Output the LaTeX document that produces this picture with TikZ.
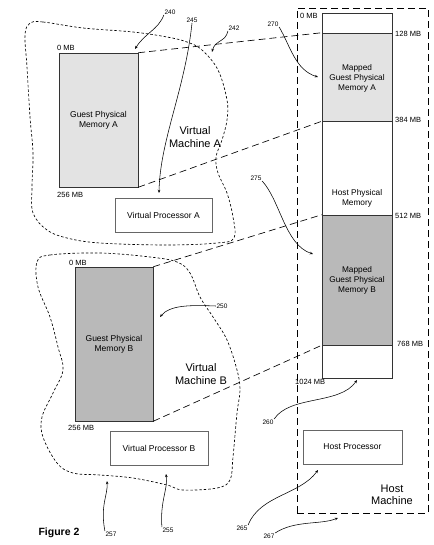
\documentclass[tikz,border=0pt]{standalone}
\usepackage{fontspec}
\setmainfont{Liberation Sans}
\usetikzlibrary{arrows.meta}

\tikzset{
  memcell/.style={draw=black!80, line width=0.5pt, inner sep=0pt, minimum width=70pt},
  guestmem/.style={draw=black!80, line width=0.5pt, inner sep=0pt, align=center,
    font=\fontsize{8.5}{10}\selectfont},
  celltext/.style={align=center, inner sep=0pt, font=\fontsize{8.3}{10}\selectfont},
  procbox/.style={draw=black!60, line width=0.6pt, minimum height=34pt,
    font=\fontsize{8.5}{10}\selectfont},
  mblabel/.style={anchor=west, inner sep=0pt, font=\fontsize{7.5}{8}\selectfont},
  refnum/.style={inner sep=0.5pt, font=\fontsize{6.5}{7}\selectfont},
  machtitle/.style={align=center, inner sep=0pt, font=\fontsize{11}{12.5}\selectfont},
  vmblob/.style={dash pattern=on 2.5pt off 2pt, line width=0.65pt},
  maplink/.style={dash pattern=on 7pt off 4pt, line width=0.65pt},
  callout/.style={-{Stealth[length=3.2pt,width=2.6pt]}, line width=0.55pt}
}

\colorlet{lightmem}{gray!22}
\colorlet{darkmem}{gray!55}

\begin{document}
\begin{tikzpicture}[x=1pt,y=-1pt]
\useasboundingbox (0,0) rectangle (433,545);

% virtual machine outlines
\draw[vmblob] plot[smooth cycle, tension=0.6] coordinates {
  (30,23) (43,22) (83,28) (133,32) (167,37) (187,42) (202,50) (218,70)
  (227,100) (227,120) (222,140) (216,157) (218,173) (227,193) (233,217)
  (234,238) (217,243) (167,245) (100,243) (67,238) (47,230) (33,213)
  (32,187) (33,153) (30,117) (27,67) (25,35)};
\draw[vmblob] plot[smooth cycle, tension=0.6] coordinates {
  (37,262) (50,255) (100,253) (150,257) (177,262) (190,273) (200,297)
  (213,317) (227,340) (237,370) (240,390) (237,413) (233,457) (230,480)
  (217,488) (183,490) (167,485) (133,478) (100,475) (73,473) (57,463)
  (43,437) (42,417) (53,393) (63,370) (58,347) (50,317) (38,287)};

% host machine
\node[draw, maplink, minimum width=131pt, minimum height=505pt, inner sep=0pt]
  (hostMach) at (362.5,260.5) {};
\node[machtitle] (hostTitle) at (392,495) {Host\\Machine};

% guest memories
\node[guestmem, fill=lightmem, minimum width=79pt, minimum height=134pt]
  (gpmA) at (98.5,120) {Guest Physical\\Memory A};
\node[guestmem, fill=darkmem, minimum width=78pt, minimum height=154pt]
  (gpmB) at (114,344) {Guest Physical\\Memory B};
\node[mblabel] (gpmAtop) at (57,48) {0 MB};
\node[mblabel] (gpmAbot) at (57,195) {256 MB};
\node[mblabel] (gpmBtop) at (69,263) {0 MB};
\node[mblabel] (gpmBbot) at (68,428) {256 MB};

\node[machtitle] (vmA) at (195,137) {Virtual\\Machine A};
\node[machtitle] (vmB) at (201,374) {Virtual\\Machine B};

% host physical memory column
\node[memcell, minimum height=20pt] (hostTop) at (357,23) {};
\node[memcell, fill=lightmem, minimum height=88pt] (mapA) at (357,77) {};
\node[memcell, minimum height=94pt] (hostMid) at (357,168) {};
\node[memcell, fill=darkmem, minimum height=130pt] (mapB) at (357,280) {};
\node[memcell, minimum height=33pt] (hostBot) at (357,361.5) {};
\node[celltext] (mapAtext) at (357,78) {Mapped\\Guest Physical\\Memory A};
\node[celltext] (hostText) at (357,198) {Host Physical\\Memory};
\node[celltext] (mapBtext) at (357,280) {Mapped\\Guest Physical\\Memory B};

\node[mblabel] (mb0) at (300,16) {0 MB};
\node[mblabel] (mb128) at (395,34) {128 MB};
\node[mblabel] (mb384) at (395,120) {384 MB};
\node[mblabel] (mb512) at (395,216) {512 MB};
\node[mblabel] (mb768) at (397,344) {768 MB};
\node[mblabel] (mb1024) at (295,382) {1024 MB};

% processors
\node[procbox, minimum width=97pt] (vpA) at (163.5,215) {Virtual Processor A};
\node[procbox, minimum width=98pt] (vpB) at (159,448.5) {Virtual Processor B};
\node[procbox, minimum width=99pt] (hostProc) at (352.5,447) {Host Processor};

% memory mappings
\draw[maplink] (gpmA.north east) -- (mapA.north west);
\draw[maplink] (gpmA.south east) -- (mapA.south west);
\draw[maplink] (gpmB.north east) -- (mapB.north west);
\draw[maplink] (gpmB.south east) -- (mapB.south west);

% reference numerals
\node[refnum] (n240) at (170,12) {240};
\node[refnum] (n245) at (192,20) {245};
\node[refnum] (n242) at (234,28) {242};
\node[refnum] (n270) at (273,24) {270};
\node[refnum] (n275) at (256,178) {275};
\node[refnum] (n250) at (222,306) {250};
\node[refnum] (n260) at (268,422) {260};
\node[refnum] (n257) at (111,534) {257};
\node[refnum] (n255) at (168,530) {255};
\node[refnum] (n265) at (242,528) {265};
\node[refnum] (n267) at (269,536) {267};
\node[font=\bfseries\fontsize{10.5}{12}\selectfont, inner sep=0pt] (figlabel) at (59,533) {Figure 2};

\coordinate (t240) at (135,49);
\coordinate (t245) at (159,193);
\coordinate (t242) at (212,52);
\coordinate (t270) at (318,77);
\coordinate (t275) at (313,254);
\coordinate (t250) at (160,317);
\coordinate (t260) at (357,380);
\coordinate (t257) at (107,481);
\coordinate (t255) at (166,474);
\coordinate (t265) at (318,470);
\coordinate (t267) at (338,518);

\draw[callout] (n240.south west) .. controls (158,30) and (145,33) .. (t240);
\draw[callout] (n245.south) .. controls (185,90) and (160,140) .. (t245);
\draw[callout] (n242.south west) .. controls (226,42) and (215,40) .. (t242);
\draw[callout] (n270.south east) .. controls (290,45) and (295,70) .. (t270);
\draw[callout] (n275.south east) .. controls (280,200) and (285,245) .. (t275);
\draw[callout] (n250.west) .. controls (190,305) and (170,305) .. (t250);
\draw[callout] (n260.north east) .. controls (290,395) and (340,405) .. (t260);
\draw[callout] (n257.north west) .. controls (100,505) and (108,495) .. (t257);
\draw[callout] (n255.north west) .. controls (160,500) and (168,490) .. (t255);
\draw[callout] (n265.north east) .. controls (260,495) and (300,495) .. (t265);
\draw[callout] (n267.north east) .. controls (295,520) and (320,525) .. (t267);
\end{tikzpicture}
\end{document}
